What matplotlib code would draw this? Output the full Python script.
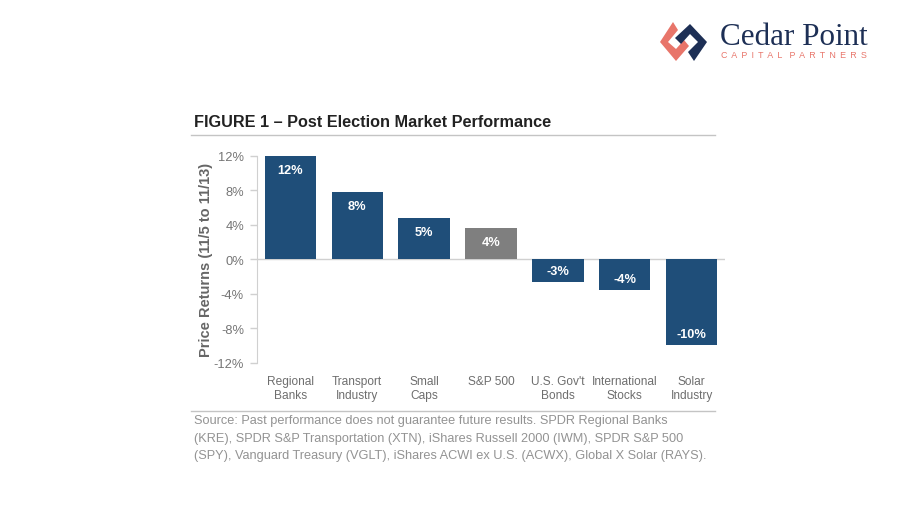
"""Post election market performance bar chart."""
import matplotlib

matplotlib.use("Agg")
import matplotlib.pyplot as plt
from matplotlib.patches import Polygon

categories = [
    "Regional\nBanks",
    "Transport\nIndustry",
    "Small\nCaps",
    "S&P 500",
    "U.S. Gov't\nBonds",
    "International\nStocks",
    "Solar\nIndustry",
]
returns = [12.0, 7.8, 4.8, 3.6, -2.7, -3.6, -10.0]
labels = ["12%", "8%", "5%", "4%", "-3%", "-4%", "-10%"]
y_ticks = [-12, -8, -4, 0, 4, 8, 12]
source_lines = [
    "Source: Past performance does not guarantee future results. SPDR Regional Banks",
    "(KRE), SPDR S&P Transportation (XTN), iShares Russell 2000 (IWM), SPDR S&P 500",
    "(SPY), Vanguard Treasury (VGLT), iShares ACWI ex U.S. (ACWX), Global X Solar (RAYS).",
]

W, H = 900, 506
NAVY = "#1f4e79"
GREY = "#7f7f7f"
LOGO_NAVY = "#1d2f55"
CORAL = "#e8756a"

plt.rcParams["font.family"] = ["Liberation Sans", "DejaVu Sans"]
fig = plt.figure(figsize=(W / 100, H / 100), dpi=100, facecolor="white")

# overlay in pixel coordinates for the page furniture
page = fig.add_axes([0, 0, 1, 1])
page.set_xlim(0, W)
page.set_ylim(H, 0)
page.axis("off")

page.text(194, 122.5, "FIGURE 1 – Post Election Market Performance", fontsize=11.7,
          fontweight="bold", color="#222222", va="center", ha="left")
page.plot([191, 715], [136, 136], color="#c4c4c4", lw=1)
page.plot([191, 715], [412, 412], color="#c4c4c4", lw=1)
for i, line in enumerate(source_lines):
    page.text(193.5, 421 + i * 17.7, line, fontsize=9.15, color="#939393",
              va="center", ha="left")

# logo
page.add_patch(Polygon(
    [(673, 23), (660, 43), (676, 62), (689, 47), (684, 41), (676, 50), (668, 43), (678, 31)],
    closed=True, color=CORAL, lw=0))
page.add_patch(Polygon(
    [(690, 25), (707, 43), (694, 62), (688, 53), (698, 43), (690, 35), (681, 45), (675, 39)],
    closed=True, color=LOGO_NAVY, lw=0))
page.text(720, 37, "Cedar Point", fontsize=22.4, family="Liberation Serif",
          color=LOGO_NAVY, va="center", ha="left")
tagline = "\u2009 ".join("CAPITAL") + "   " + "\u2009 ".join("PARTNERS")
page.text(721, 55.5, tagline, fontsize=6.4, color=CORAL, va="center", ha="left")

# chart axes: left spine at x=257, 12% at y=156.7, -12% at y=363.7
ax = fig.add_axes([257 / W, 1 - 363.7 / H, (725 - 257) / W, (363.7 - 156.7) / H])
ax.patch.set_alpha(0)
x = range(len(categories))
colors = [GREY if c == "S&P 500" else NAVY for c in categories]
ax.bar(x, returns, width=0.77, color=colors)
ax.set_xlim(-0.5, len(categories) - 0.5)
ax.set_ylim(-12, 12)
ax.set_yticks(y_ticks, [f"{t}%" for t in y_ticks], fontsize=9.3, color="#757575")
ax.tick_params(axis="y", length=5, width=1, color="#d0d0d0", pad=4.4)
ax.set_xticks(list(x), categories, fontsize=8.6, color="#6e6e6e", linespacing=1.3)
ax.tick_params(axis="x", length=0, pad=8.5)
ax.xaxis.set_ticks_position("bottom")
for tick in ax.get_xticklabels():
    tick.set_verticalalignment("top")
ax.set_ylabel("Price Returns (11/5 to 11/13)", fontsize=10.5, fontweight="bold",
              color="#666666", labelpad=0.5)
for side in ["top", "right", "bottom"]:
    ax.spines[side].set_visible(False)
ax.spines["left"].set_color("#d0d0d0")
ax.axhline(0, color="#d0d0d0", lw=1, zorder=0)

for pos, value, label in zip(x, returns, labels):
    # labels sit just inside the bar end
    offset = -1.65 if value > 0 else 1.3
    ax.text(pos, value + offset, label, color="white", fontsize=9.2, fontweight="bold",
            ha="center", va="center")

fig.savefig("out.png", dpi=100)
